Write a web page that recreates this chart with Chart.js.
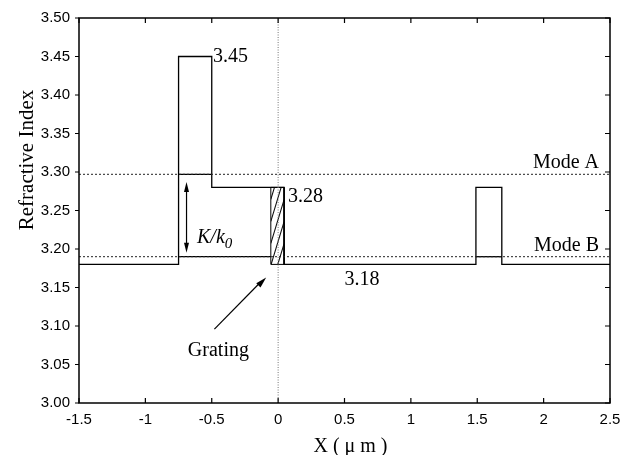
<!DOCTYPE html>
<html>
<head>
<meta charset="utf-8">
<script src="https://cdn.jsdelivr.net/npm/chart.js@4.4.1/dist/chart.umd.min.js"></script>
<style>
  html, body { margin: 0; padding: 0; background: #fff; }
</style>
</head>
<body>
<canvas id="c" width="630" height="455"></canvas>
<script>
// refractive index profile, step outline
var profileX = [-1.5, -0.75, -0.75, -0.5, -0.5, 0.045, 0.045, 1.49, 1.49, 1.685, 1.685, 2.5];
var profileY = [3.18, 3.18, 3.45, 3.45, 3.28, 3.28, 3.18, 3.18, 3.28, 3.28, 3.18, 3.18];

// grating box (x from..to, y from..to)
var gratingX = [-0.055, 0.045];
var gratingY = [3.18, 3.28];

// mode effective indices
var modeA = 3.297;
var modeB = 3.19;
// where the mode lines are drawn solid
var modeASolid = [[-0.75, -0.5]];
var modeBSolid = [[-0.75, -0.055], [1.49, 1.685]];

// axes
var xRange = [-1.5, 2.5];
var yRange = [3.0, 3.5];

// annotations: text, x, y (data)
var labels = [
    { text: "3.45", x: -0.49, y: 3.45 },
    { text: "3.28", x: 0.075, y: 3.268 },
    { text: "3.18", x: 0.5, y: 3.16 },
    { text: "Grating", x: -0.68, y: 3.068 }
];
var modeLabels = [
    { text: "Mode A", y: modeA },
    { text: "Mode B", y: modeB }
];
var kArrow = { x: -0.69, y1: 3.195, y2: 3.287 };
var gratingArrow = { x1: -0.48, y1: 3.096, x2: -0.09, y2: 3.163 };

function pts(xs, ys) {
    var out = [];
    for (var i = 0; i < xs.length; i++) out.push({ x: xs[i], y: ys[i] });
    return out;
}

var solid = { showLine: true, pointRadius: 0, borderColor: "#000", borderWidth: 1.3, fill: false };

var datasets = [];
// dotted mode lines and x = 0
datasets.push(Object.assign({}, solid, { data: pts(xRange, [modeA, modeA]), borderDash: [2, 2], borderWidth: 1, borderColor: "#222" }));
datasets.push(Object.assign({}, solid, { data: pts(xRange, [modeB, modeB]), borderDash: [2, 2], borderWidth: 1, borderColor: "#222" }));
datasets.push(Object.assign({}, solid, { data: pts([0, 0], yRange), borderDash: [1, 1.5], borderWidth: 1, borderColor: "#777" }));
// profile
datasets.push(Object.assign({}, solid, { data: pts(profileX, profileY) }));
// grating outline
datasets.push(Object.assign({}, solid, { borderWidth: 1, data: pts(
    [gratingX[0], gratingX[0], gratingX[1], gratingX[1], gratingX[0]],
    [gratingY[0], gratingY[1], gratingY[1], gratingY[0], gratingY[0]]) }));
modeASolid.forEach(function (s) {
    datasets.push(Object.assign({}, solid, { data: pts(s, [modeA, modeA]) }));
});
modeBSolid.forEach(function (s) {
    datasets.push(Object.assign({}, solid, { data: pts(s, [modeB, modeB]) }));
});

function arrowHead(ctx, x1, y1, x2, y2, len, half) {
    var a = Math.atan2(y2 - y1, x2 - x1);
    ctx.beginPath();
    ctx.moveTo(x2, y2);
    ctx.lineTo(x2 - len * Math.cos(a) + half * Math.sin(a), y2 - len * Math.sin(a) - half * Math.cos(a));
    ctx.lineTo(x2 - len * Math.cos(a) - half * Math.sin(a), y2 - len * Math.sin(a) + half * Math.cos(a));
    ctx.closePath();
    ctx.fill();
}

var extras = {
    id: "extras",
    beforeDatasetsDraw: function (chart) {
        var ctx = chart.ctx, sx = chart.scales.x, sy = chart.scales.y;
        // hatching inside the grating
        var xl = sx.getPixelForValue(gratingX[0]), xr = sx.getPixelForValue(gratingX[1]);
        var yt = sy.getPixelForValue(gratingY[1]), yb = sy.getPixelForValue(gratingY[0]);
        ctx.save();
        ctx.beginPath();
        ctx.rect(xl, yt, xr - xl, yb - yt);
        ctx.clip();
        ctx.strokeStyle = "#111";
        ctx.lineWidth = 1.1;
        ctx.beginPath();
        for (var y0 = yb + 45; y0 > yt - 10; y0 -= 22) {
            ctx.moveTo(xl, y0);
            ctx.lineTo(xr, y0 - (xr - xl) * 3.3);
        }
        ctx.stroke();
        ctx.restore();
    },
    afterDraw: function (chart) {
        var ctx = chart.ctx, sx = chart.scales.x, sy = chart.scales.y, a = chart.chartArea;
        ctx.save();
        // frame
        ctx.strokeStyle = "#000";
        ctx.lineWidth = 1.5;
        ctx.strokeRect(a.left, a.top, a.right - a.left, a.bottom - a.top);
        // tick marks
        ctx.lineWidth = 1.2;
        ctx.beginPath();
        sx.ticks.forEach(function (t) {
            var px = sx.getPixelForValue(t.value);
            ctx.moveTo(px, a.bottom); ctx.lineTo(px, a.bottom - 5);
            ctx.moveTo(px, a.top); ctx.lineTo(px, a.top + 5);
        });
        sy.ticks.forEach(function (t) {
            var py = sy.getPixelForValue(t.value);
            ctx.moveTo(a.left - 4, py); ctx.lineTo(a.left, py);
            ctx.moveTo(a.right, py); ctx.lineTo(a.right - 5, py);
        });
        ctx.stroke();

        // arrows
        ctx.fillStyle = "#000";
        ctx.lineWidth = 1.2;
        var kx = sx.getPixelForValue(kArrow.x), ky1 = sy.getPixelForValue(kArrow.y1), ky2 = sy.getPixelForValue(kArrow.y2);
        ctx.beginPath(); ctx.moveTo(kx, ky1 - 6); ctx.lineTo(kx, ky2 + 6); ctx.stroke();
        arrowHead(ctx, kx, ky2, kx, ky1, 10, 2.5);
        arrowHead(ctx, kx, ky1, kx, ky2, 10, 2.5);
        var gx1 = sx.getPixelForValue(gratingArrow.x1), gy1 = sy.getPixelForValue(gratingArrow.y1);
        var gx2 = sx.getPixelForValue(gratingArrow.x2), gy2 = sy.getPixelForValue(gratingArrow.y2);
        ctx.beginPath(); ctx.moveTo(gx1, gy1); ctx.lineTo(gx2 - 5, gy2 + 4); ctx.stroke();
        arrowHead(ctx, gx1, gy1, gx2, gy2, 11, 3);

        // annotation texts
        ctx.textBaseline = "middle";
        ctx.textAlign = "left";
        ctx.font = '20px "Liberation Serif"';
        labels.forEach(function (l) {
            ctx.fillText(l.text, sx.getPixelForValue(l.x), sy.getPixelForValue(l.y));
        });
        ctx.textAlign = "right";
        ctx.textBaseline = "alphabetic";
        modeLabels.forEach(function (l) {
            ctx.fillText(l.text, a.right - 11, sy.getPixelForValue(l.y) - 6);
        });
        // K/k0
        ctx.textAlign = "left";
        ctx.textBaseline = "alphabetic";
        ctx.font = 'italic 20px "Liberation Serif"';
        var kt = "K/k";
        ctx.fillText(kt, 197, 243);
        var w = ctx.measureText(kt).width;
        ctx.font = 'italic 15px "Liberation Serif"';
        ctx.fillText("0", 197 + w, 248);

        // axis titles
        ctx.font = '20px "Liberation Serif"';
        ctx.textAlign = "center";
        ctx.textBaseline = "middle";
        ctx.fillText("X ( \u03bc m )", (a.left + a.right) / 2 + 6, 447);
        ctx.translate(27, 160);
        ctx.rotate(-Math.PI / 2);
        ctx.font = '21px "Liberation Serif"';
        ctx.fillText("Refractive Index", 0, 0);
        ctx.restore();
    }
};

new Chart(document.getElementById("c").getContext("2d"), {
    type: "scatter",
    data: { datasets: datasets },
    options: {
        responsive: false,
        animation: false,
        layout: { padding: { top: 15, right: 20, left: 0, bottom: 0 } },
        plugins: { legend: { display: false }, tooltip: { enabled: false } },
        scales: {
            x: {
                type: "linear",
                min: xRange[0], max: xRange[1],
                grid: { display: false, drawTicks: false },
                border: { display: false },
                ticks: {
                    stepSize: 0.5, padding: 8, color: "#000",
                    font: { family: "Liberation Sans", size: 15 },
                    callback: function (v) { return String(Math.round(v * 10) / 10); }
                },
                afterFit: function (s) { s.height = 52; }
            },
            y: {
                type: "linear",
                min: yRange[0], max: yRange[1],
                grid: { display: false, drawTicks: false },
                border: { display: false },
                ticks: {
                    stepSize: 0.05, padding: 9, color: "#000",
                    font: { family: "Liberation Sans", size: 15 },
                    callback: function (v) { return v.toFixed(2); }
                },
                afterFit: function (s) { s.width = 79; }
            }
        }
    },
    plugins: [extras]
});
</script>
</body>
</html>
